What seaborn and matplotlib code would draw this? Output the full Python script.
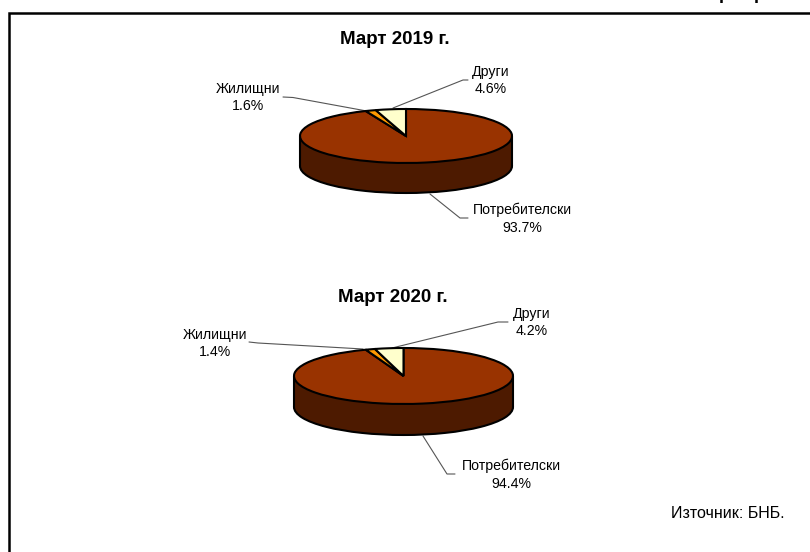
import matplotlib
matplotlib.use('Agg')
import matplotlib.pyplot as plt
import seaborn as sns

# данни
labels = ['Потребителски', 'Жилищни', 'Други']
values_2019 = [93.7, 1.6, 4.6]
values_2020 = [94.4, 1.4, 4.2]
titles = ['Март 2019 г.', 'Март 2020 г.']
source = 'Източник: БНБ.'
colors = ['#993300', '#FF9900', '#FFFFCC']
side_color = '#4D1A00'

sns.set_theme(style='white')
plt.rcParams['font.family'] = ['Liberation Sans', 'DejaVu Sans']

W, H = 810, 552
fig = plt.figure(figsize=(W / 100, H / 100), dpi=100, facecolor='white')

# фон в пиксели: рамка, текстове, водещи линии
bg = fig.add_axes([0, 0, 1, 1])
bg.set_xlim(0, W)
bg.set_ylim(H, 0)
bg.axis('off')
bg.plot([8.5, 8.5, W], [H, 12.5, 12.5], color='black', lw=1.8, solid_joinstyle='miter')

# долните части на отрязаното заглавие
for x in [719, 754]:
    bg.text(x, -1, 'р', fontsize=13, fontweight='bold', ha='left', va='baseline', color='black', clip_on=True)


def draw_pie(values, cx, cy, rx, ry, depth):
    # елипсата е обикновена пита в оси без равно съотношение
    pad = 4
    d = depth / ry
    left = (cx - rx - pad) / W
    width = (2 * rx + 2 * pad) / W
    top = cy - ry - pad
    bottom = cy + ry + depth + pad
    ax = fig.add_axes([left, 1 - bottom / H, width, (bottom - top) / H])
    edge = {'edgecolor': 'black', 'linewidth': 1.5}
    ax.pie([1], colors=[side_color], center=(0, -d), wedgeprops=edge)
    ax.fill_between([-1, 1], -d, 0, color=side_color, lw=0)
    ax.plot([-1, -1], [-d, 0], color='black', lw=1.5)
    ax.plot([1, 1], [-d, 0], color='black', lw=1.5)
    ax.pie(values, colors=colors, startangle=90, counterclock=False, wedgeprops=edge)
    ax.set_aspect('auto')
    ax.set_xlim(-1 - pad / rx, 1 + pad / rx)
    ax.set_ylim(-1 - d - pad / ry, 1 + pad / ry)
    return ax


draw_pie(values_2019, 406, 136, 106, 27, 30)
draw_pie(values_2020, 403.5, 376, 109.5, 28, 31)

title_pos = [(394.5, 39), (393, 297)]
for t, (x, y) in zip(titles, title_pos):
    bg.text(x, y, t, fontsize=13.5, fontweight='bold', ha='center', va='center', color='black')

label_pos = [
    [(522, 218.5), (248, 97.5), (491, 80.5)],
    [(511, 474.5), (215, 343.5), (532, 322.5)],
]
leaders = [
    [[(468, 218), (460, 218), (430, 194)],
     [(283, 97), (293, 97.5), (365, 110.7)],
     [(468, 80), (463, 80), (393, 108)]],
    [[(455, 474), (447, 474), (423, 436)],
     [(249, 342), (258, 343), (363, 349)],
     [(508, 322), (498, 322), (392, 348)]],
]
for vals, pos, lines in zip([values_2019, values_2020], label_pos, leaders):
    for name, v, (x, y), line in zip(labels, vals, pos, lines):
        bg.text(x, y, f'{name}\n{v:.1f}%', fontsize=10.2, ha='center', va='center',
                color='black', linespacing=1.35)
        bg.plot([p[0] for p in line], [p[1] for p in line], color='#555555', lw=0.8)

bg.text(785, 513, source, fontsize=11.5, ha='right', va='center', color='black')

fig.savefig('out.png', dpi=100)
